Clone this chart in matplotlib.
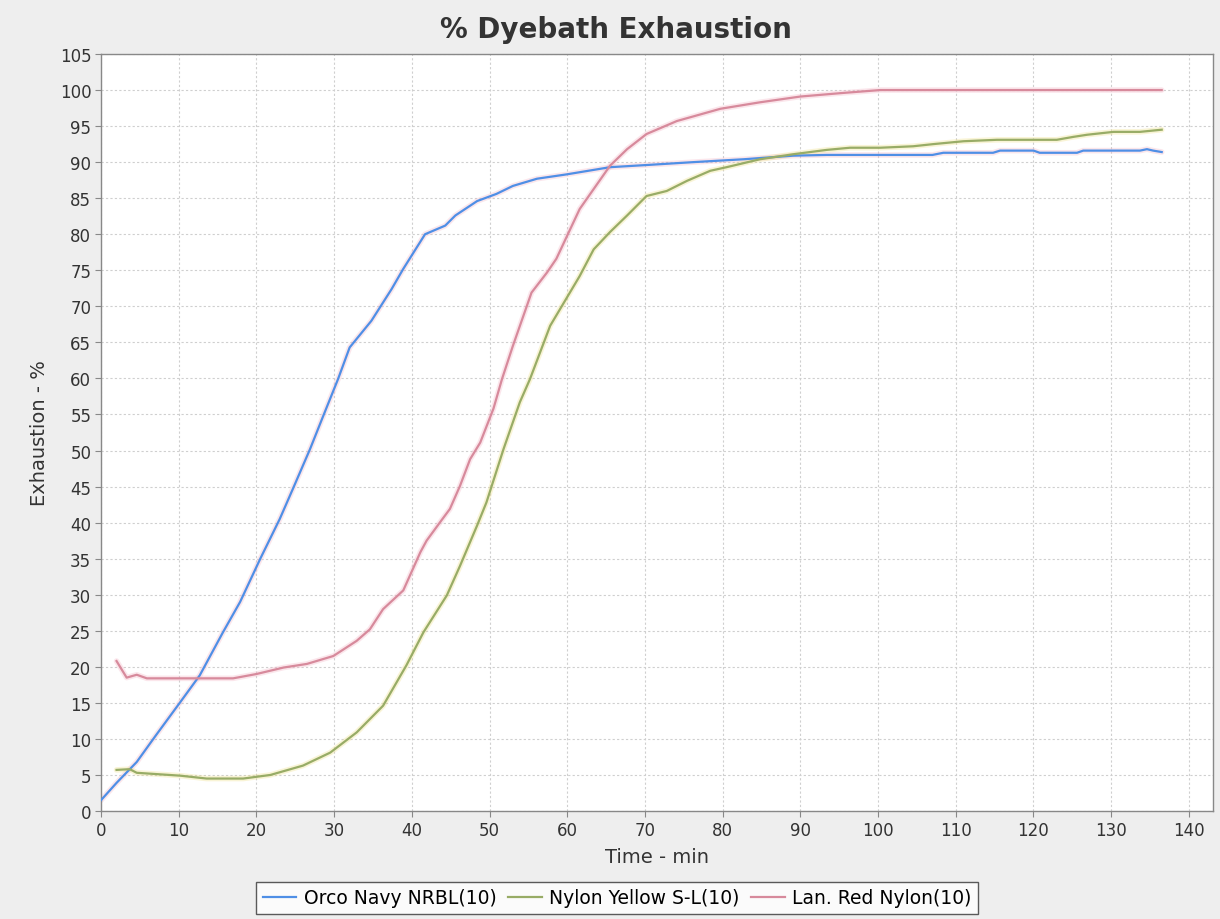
import matplotlib
matplotlib.use("Agg")
import matplotlib.pyplot as plt
import numpy as np

title = "% Dyebath Exhaustion"
xlabel = "Time - min"
ylabel = "Exhaustion - %"
series_names = ["Orco Navy NRBL(10)", "Nylon Yellow S-L(10)", "Lan. Red Nylon(10)"]

navy_t = [0, 2, 4.6, 7, 10.2, 12.7, 15.7, 17.9, 20.5, 23, 24.7, 26.9, 28.6, 30.5, 32, 34.8,
          37.4, 38.9, 41.7, 44.3, 45.6, 48.4, 50.9, 53, 56.1, 59.9, 65.5, 70.2, 76.2, 82.7,
          89.1, 93.4, 100, 107, 108.4, 114.8, 115.7, 120, 120.8, 125.6, 126.4, 133.7, 134.6,
          135.4, 136.5]
navy_y = [1.5, 3.9, 6.8, 10.4, 15.1, 18.8, 24.8, 29.0, 35.0, 40.5, 44.7, 50.2, 54.8, 59.9,
          64.3, 68.0, 72.4, 75.2, 80.0, 81.2, 82.6, 84.6, 85.6, 86.7, 87.7, 88.3, 89.3, 89.6,
          90.0, 90.4, 90.9, 91.0, 91.0, 91.0, 91.3, 91.3, 91.6, 91.6, 91.3, 91.3, 91.6, 91.6,
          91.8, 91.6, 91.4]

yellow_t = [2, 3.7, 4.6, 10.2, 13.6, 18.3, 21.8, 26, 29.5, 32.9, 36.3, 39.3, 41.5, 44.5,
            46.2, 48.4, 49.6, 51.8, 53.9, 55.2, 57.8, 61.6, 63.4, 65.5, 67.7, 70.2, 72.8,
            75.4, 78.4, 80.5, 84.8, 89.1, 93.4, 96.4, 100.3, 104.5, 107.1, 111, 115.3, 123,
            125.1, 126.9, 130.3, 133.7, 136.5]
yellow_y = [5.7, 5.8, 5.3, 4.9, 4.5, 4.5, 5.0, 6.3, 8.1, 10.9, 14.6, 20.2, 24.8, 29.9, 34.0,
            39.6, 42.8, 50.2, 56.7, 59.9, 67.3, 74.2, 77.9, 80.3, 82.6, 85.3, 86.0, 87.4,
            88.8, 89.3, 90.4, 91.1, 91.7, 92.0, 92.0, 92.2, 92.5, 92.9, 93.1, 93.1, 93.5,
            93.8, 94.2, 94.2, 94.5]

red_t = [2, 3.3, 4.6, 5.9, 10.2, 17, 20, 23.5, 26.5, 29.9, 32.9, 34.6, 36.3, 38.9, 41.1,
         41.9, 43.8, 44.9, 46.2, 47.5, 48.8, 50.5, 51.6, 53, 55.4, 57.4, 58.6, 61.6, 65.5,
         67.7, 70.2, 74.1, 79.7, 84.8, 90, 95.5, 100.3, 136.5]
red_y = [20.8, 18.5, 18.9, 18.4, 18.4, 18.4, 19.0, 19.9, 20.4, 21.5, 23.6, 25.2, 28.0, 30.6,
         35.9, 37.5, 40.3, 41.9, 45.1, 48.8, 51.1, 55.8, 59.9, 64.5, 71.9, 74.7, 76.6, 83.5,
         89.5, 91.8, 93.9, 95.7, 97.4, 98.3, 99.1, 99.6, 100.0, 100.0]

x_ticks = list(range(0, 141, 10))
y_ticks = list(range(0, 106, 5))

colors = ["#4f8fe6", "#98ac66", "#d78a9c"]
halo = ["#f4b8c8", "#f0e08a", "#f4b8c8"]

fig = plt.figure(figsize=(12.2, 9.2), dpi=100, facecolor="#eeeeee")
ax = fig.add_axes([101/1220, 1-812/920, (1213-101)/1220, (812-55)/920])
ax.set_facecolor("white")

data = [(navy_t, navy_y), (yellow_t, yellow_y), (red_t, red_y)]
handles = []
for (t, y), c, h, name in zip(data, colors, halo, series_names):
    ax.plot(t, y, color=h, lw=4, alpha=0.35, solid_capstyle="round", zorder=2)
    ln, = ax.plot(t, y, color=c, lw=1.6, zorder=3, label=name)
    handles.append(ln)

ax.set_xlim(0, 143.1)
ax.set_ylim(0, 105)
ax.set_xticks(x_ticks)
ax.set_yticks(y_ticks)
ax.tick_params(axis="both", labelsize=12, labelcolor="#333333", length=4, width=0.8,
               direction="out", pad=3, color="#888888")
ax.grid(True, color="#cfcfcf", linestyle=(0, (2, 2)), linewidth=0.8)
for s in ax.spines.values():
    s.set_color("#888888")
    s.set_linewidth(1.0)

fig.text(616/1220, 1-30/920, title, fontsize=20, fontweight="bold", color="#333333",
         ha="center", va="center")
ax.set_xlabel(xlabel, fontsize=14, color="#333333", labelpad=6)
ax.set_ylabel(ylabel, fontsize=14, color="#333333", labelpad=8)

leg = fig.legend(handles=handles, labels=series_names, loc="center",
                 bbox_to_anchor=(617/1220, 1-899/920), ncol=3, fontsize=13.5,
                 frameon=True, fancybox=False, handlelength=1.8, handletextpad=0.4,
                 columnspacing=0.6, borderpad=0.35)
leg.get_frame().set_edgecolor("#333333")
leg.get_frame().set_linewidth(1.0)
leg.get_frame().set_facecolor("white")

fig.savefig("out.png", dpi=100, facecolor=fig.get_facecolor())
